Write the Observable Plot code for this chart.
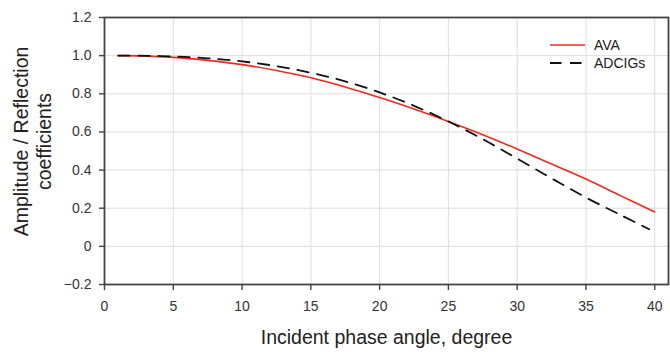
<!DOCTYPE html>
<html>
<head>
<meta charset="utf-8">
<script src="https://cdn.jsdelivr.net/npm/d3@7"></script>
<script src="https://cdn.jsdelivr.net/npm/@observablehq/plot@0.6"></script>
<style>
  html, body { margin: 0; padding: 0; background: #fff; }
  #chart { width: 670px; height: 352px; }
</style>
</head>
<body>
<div id="chart"></div>
<script>
// ---- data ----
const avaAngles = [1, 2.5, 5, 7.5, 10, 12.5, 15, 17.5, 20, 22.5, 25, 27.5, 30, 32.5, 35, 37.5, 40];
const avaValues = [1.000, 0.999, 0.991, 0.975, 0.953, 0.922, 0.884, 0.836, 0.780, 0.720, 0.655, 0.585, 0.510, 0.432, 0.353, 0.266, 0.180];

const adcigsAngles = [1, 2.5, 5, 7.5, 10, 12.5, 15, 17.5, 20, 22.5, 25, 27.5, 30, 32.5, 35, 37.5, 39.6];
const adcigsValues = [1.000, 1.000, 0.996, 0.986, 0.970, 0.945, 0.910, 0.865, 0.807, 0.737, 0.655, 0.562, 0.460, 0.357, 0.256, 0.165, 0.090];

const seriesNames = ["AVA", "ADCIGs"];
const xTicks = [0, 5, 10, 15, 20, 25, 30, 35, 40];
const yTicks = [-0.2, 0, 0.2, 0.4, 0.6, 0.8, 1.0, 1.2];
const xLabel = "Incident phase angle, degree";
const yLabelLines = ["Amplitude / Reflection", "coefficients"];

// ---- build tables ----
const ava = avaAngles.map((a, i) => ({angle: a, value: avaValues[i]}));
const adcigs = adcigsAngles.map((a, i) => ({angle: a, value: adcigsValues[i]}));

const RED = "#ee2a1c";
const DARK = "#444";
const FONT = "'Liberation Sans', Arial, Helvetica, sans-serif";

const fmtY = d => d === 0 ? "0" : (d < 0 ? "\u2212" + Math.abs(d).toFixed(1) : d.toFixed(1));

const plot = Plot.plot({
  width: 670,
  height: 352,
  marginTop: 17,
  marginBottom: 68,
  marginLeft: 104,
  marginRight: 2,
  style: {fontFamily: FONT, fontSize: "14px", color: "#333", background: "#fff"},
  x: {domain: [0, 41]},
  y: {domain: [-0.2, 1.2]},
  marks: [
    Plot.gridX(xTicks, {stroke: "#dedede", strokeOpacity: 1, strokeWidth: 1}),
    Plot.gridY(yTicks, {stroke: "#dedede", strokeOpacity: 1, strokeWidth: 1}),
    Plot.line(ava, {x: "angle", y: "value", stroke: RED, strokeWidth: 1.6, curve: "catmull-rom"}),
    Plot.line(adcigs, {x: "angle", y: "value", stroke: "#111", strokeWidth: 1.8, strokeDasharray: "11.5,8.5", curve: "catmull-rom"}),
    Plot.frame({stroke: DARK, strokeWidth: 1.8}),
    Plot.axisX(xTicks, {tickSize: 6, tickPadding: 11, label: null, stroke: DARK, strokeWidth: 1.4, fill: "#333", fontSize: 14}),
    Plot.axisY(yTicks, {tickSize: 5, tickPadding: 8, label: null, stroke: DARK, strokeWidth: 1.4, tickFormat: fmtY, fill: "#333", fontSize: 14}),
    Plot.text([xLabel], {frameAnchor: "bottom", dy: 59, fontSize: 19.5, fill: "#222", text: d => d}),
    Plot.text([yLabelLines[0]], {frameAnchor: "left", textAnchor: "middle", dx: -83, dy: -9.5, rotate: -90, fontSize: 19.5, fill: "#222", text: d => d}),
    Plot.text([yLabelLines[1]], {frameAnchor: "left", textAnchor: "middle", dx: -60, dy: -9.5, rotate: -90, fontSize: 19.5, fill: "#222", text: d => d})
  ]
});

document.getElementById("chart").appendChild(plot);

// ---- legend (top-right inside frame) ----
const svg = d3.select(plot);
const frameRight = 670 - 2;
const lg = svg.append("g")
  .attr("font-family", FONT).attr("font-size", 14).attr("fill", "#222")
  .attr("text-anchor", "start");
const legendItems = [
  {name: seriesNames[0], stroke: RED, dash: null, width: 1.6, y: 45},
  {name: seriesNames[1], stroke: "#111", dash: "11.5,8.5", width: 1.8, y: 63}
];
legendItems.forEach(it => {
  lg.append("line")
    .attr("x1", frameRight - 118).attr("x2", frameRight - 83)
    .attr("y1", it.y).attr("y2", it.y)
    .attr("stroke", it.stroke).attr("stroke-width", it.width)
    .attr("stroke-dasharray", it.dash);
  lg.append("text")
    .attr("x", frameRight - 74).attr("y", it.y).attr("dy", "0.35em")
    .attr("text-anchor", "start")
    .text(it.name);
});
</script>
</body>
</html>
